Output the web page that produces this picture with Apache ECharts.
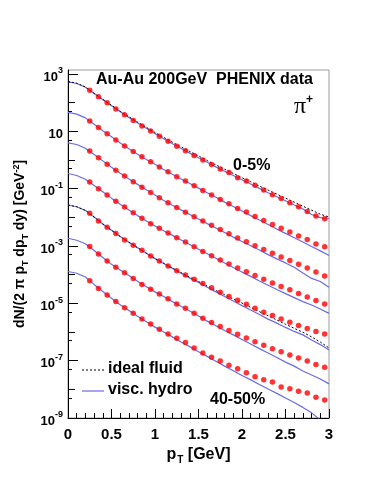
<!DOCTYPE html>
<html>
<head>
<meta charset="utf-8">
<title>pi+ spectra</title>
<script src="https://cdn.jsdelivr.net/npm/echarts@6/dist/echarts.min.js"></script>
<style>
  html, body { margin: 0; padding: 0; background: #fff; }
  #chart { width: 374px; height: 484px; }
</style>
</head>
<body>
<div id="chart"></div>
<script>
// pT points of the PHENIX data and of the hydro curves (GeV)
const ptData = [0.25, 0.35, 0.45, 0.55, 0.65, 0.75, 0.85, 0.95, 1.05, 1.15, 1.25, 1.35, 1.45, 1.55,
  1.65, 1.75, 1.85, 1.95, 2.05, 2.15, 2.25, 2.35, 2.45, 2.55, 2.65, 2.75, 2.85, 2.95];
const ptCurve = [0, 0.1, 0.2, 0.3, 0.4, 0.5, 0.6, 0.7, 0.8, 0.9, 1.0, 1.1, 1.2, 1.3, 1.4, 1.5,
  1.6, 1.7, 1.8, 1.9, 2.0, 2.1, 2.2, 2.3, 2.4, 2.5, 2.6, 2.7, 2.8, 2.9, 3.0];

// all yields below are log10 of dN/(2 pi pT dpT dy), scaled down one decade per class
const centralities = ["0-5%", "5-10%", "10-15%", "15-20%", "20-30%", "30-40%", "40-50%"];

// PHENIX points
const data0 = [2.43, 2.21, 2.00, 1.78, 1.58, 1.38, 1.19, 1.01, 0.83, 0.65, 0.48, 0.32, 0.16, 0.00,
  -0.16, -0.31, -0.44, -0.62, -0.73, -0.88, -1.05, -1.21, -1.34, -1.49, -1.63, -1.80, -1.95, -2.05];
const data1 = [1.36, 1.13, 0.92, 0.70, 0.49, 0.30, 0.11, -0.06, -0.24, -0.41, -0.58, -0.73, -0.90, -1.06,
  -1.22, -1.38, -1.53, -1.69, -1.81, -1.97, -2.11, -2.25, -2.38, -2.51, -2.65, -2.77, -2.93, -3.03];
const data2 = [0.31, 0.08, -0.15, -0.36, -0.56, -0.76, -0.95, -1.13, -1.32, -1.49, -1.66, -1.82, -1.98, -2.13,
  -2.28, -2.42, -2.57, -2.72, -2.85, -2.99, -3.12, -3.25, -3.38, -3.51, -3.64, -3.77, -3.91, -4.05];
const data3 = [-0.77, -1.00, -1.22, -1.44, -1.64, -1.84, -2.03, -2.22, -2.38, -2.55, -2.71, -2.86, -3.03, -3.19,
  -3.34, -3.49, -3.63, -3.77, -3.90, -4.03, -4.16, -4.29, -4.41, -4.53, -4.66, -4.78, -4.90, -5.02];
const data4 = [-1.86, -2.13, -2.35, -2.56, -2.79, -2.97, -3.15, -3.35, -3.52, -3.70, -3.86, -4.01, -4.16, -4.31,
  -4.46, -4.61, -4.76, -4.89, -5.03, -5.17, -5.31, -5.42, -5.55, -5.66, -5.77, -5.88, -5.98, -6.07];
const data5 = [-3.02, -3.28, -3.52, -3.74, -3.93, -4.13, -4.34, -4.51, -4.67, -4.84, -5.02, -5.17, -5.35, -5.52,
  -5.67, -5.81, -5.95, -6.08, -6.21, -6.34, -6.46, -6.58, -6.69, -6.80, -6.91, -7.01, -7.13, -7.23];
const data6 = [-4.21, -4.48, -4.71, -4.94, -5.15, -5.35, -5.55, -5.72, -5.90, -6.07, -6.22, -6.37, -6.56, -6.73,
  -6.88, -7.01, -7.16, -7.28, -7.42, -7.56, -7.67, -7.74, -7.92, -7.98, -8.07, -8.13, -8.28, -8.37];

// viscous hydro curves
const visc0 = [2.73, 2.67, 2.54, 2.32, 2.10, 1.89, 1.68, 1.48, 1.29, 1.11, 0.92, 0.74, 0.57, 0.40, 0.24, 0.08,
  -0.08, -0.24, -0.39, -0.54, -0.69, -0.84, -0.99, -1.14, -1.28, -1.42, -1.57, -1.71, -1.90, -2.01, -2.04];
const visc1 = [1.66, 1.60, 1.47, 1.25, 1.02, 0.81, 0.59, 0.39, 0.20, 0.02, -0.15, -0.33, -0.50, -0.66, -0.82, -0.98,
  -1.14, -1.30, -1.47, -1.62, -1.78, -1.94, -2.09, -2.25, -2.41, -2.56, -2.71, -2.86, -3.02, -3.17, -3.33];
const visc2 = [0.60, 0.54, 0.41, 0.19, -0.03, -0.25, -0.46, -0.66, -0.85, -1.04, -1.22, -1.41, -1.58, -1.74, -1.90, -2.06,
  -2.22, -2.37, -2.53, -2.69, -2.84, -2.99, -3.14, -3.30, -3.45, -3.59, -3.74, -3.94, -4.13, -4.24, -4.44];
const visc3 = [-0.47, -0.54, -0.67, -0.89, -1.11, -1.33, -1.54, -1.74, -1.94, -2.13, -2.30, -2.47, -2.63, -2.79, -2.95, -3.11,
  -3.27, -3.43, -3.59, -3.75, -3.91, -4.06, -4.22, -4.37, -4.52, -4.66, -4.80, -4.94, -5.06, -5.20, -5.35];
const visc4 = [-1.57, -1.63, -1.76, -1.99, -2.23, -2.45, -2.67, -2.87, -3.06, -3.25, -3.44, -3.61, -3.78, -3.95, -4.12, -4.27,
  -4.44, -4.60, -4.76, -4.92, -5.08, -5.23, -5.39, -5.55, -5.69, -5.84, -5.98, -6.10, -6.28, -6.44, -6.63];
const visc5 = [-2.73, -2.80, -2.92, -3.16, -3.40, -3.64, -3.84, -4.03, -4.23, -4.42, -4.60, -4.76, -4.94, -5.10, -5.27, -5.44,
  -5.62, -5.78, -5.95, -6.10, -6.26, -6.42, -6.58, -6.73, -6.89, -7.05, -7.19, -7.36, -7.50, -7.64, -7.81];
const visc6 = [-3.89, -3.95, -4.08, -4.34, -4.59, -4.82, -5.05, -5.25, -5.45, -5.64, -5.83, -6.00, -6.17, -6.35, -6.51, -6.69,
  -6.85, -7.02, -7.19, -7.35, -7.52, -7.67, -7.83, -7.99, -8.14, -8.30, -8.46, -8.63, -8.82, -9.07, -9.28];

// ideal fluid curves (only 0-5% and 20-30%)
const ideal0 = [2.74, 2.68, 2.55, 2.33, 2.12, 1.91, 1.70, 1.51, 1.32, 1.14, 0.96, 0.79, 0.62, 0.46, 0.30, 0.14,
  -0.02, -0.17, -0.32, -0.47, -0.62, -0.76, -0.91, -1.05, -1.19, -1.33, -1.47, -1.61, -1.75, -1.89, -1.99];
const ideal4 = [-1.57, -1.63, -1.76, -1.99, -2.23, -2.45, -2.67, -2.87, -3.06, -3.25, -3.44, -3.60, -3.77, -3.93, -4.09, -4.24,
  -4.40, -4.55, -4.70, -4.85, -4.99, -5.14, -5.29, -5.43, -5.58, -5.73, -5.87, -6.01, -6.17, -6.35, -6.56];

// y axis ticks
const labelTicks = [1e3, 1e1, 1e-1, 1e-3, 1e-5, 1e-7, 1e-9];
const decadeTicks = [1e2, 1, 1e-2, 1e-4, 1e-6, 1e-8];
const fiveTicks = [500, 50, 5, 0.5, 5e-2, 5e-3, 5e-4, 5e-5, 5e-6, 5e-7, 5e-8, 5e-9];

const dataSets = [data0, data1, data2, data3, data4, data5, data6];
const viscSets = [visc0, visc1, visc2, visc3, visc4, visc5, visc6];

const FONT = "Liberation Sans";
const BLUE = "#6b6be6";
const YMIN = 1e-9;
const YMAX = 1380;

function pairs(xs, lg) {
  return xs.map((x, i) => [x, Math.pow(10, lg[i])]);
}

const series = [];
viscSets.forEach((v) => {
  series.push({
    name: "visc. hydro",
    type: "line",
    data: pairs(ptCurve, v),
    showSymbol: false,
    symbol: "none",
    lineStyle: { color: BLUE, width: 1.2 },
    z: 2,
    silent: true,
  });
});
[ideal0, ideal4].forEach((v) => {
  series.push({
    name: "ideal fluid",
    type: "line",
    data: pairs(ptCurve, v),
    showSymbol: false,
    symbol: "none",
    lineStyle: { color: "#000", width: 1, type: [2, 2] },
    z: 3,
    silent: true,
  });
});
dataSets.forEach((d, i) => {
  series.push({
    name: "PHENIX " + centralities[i],
    type: "scatter",
    data: pairs(ptData, d),
    symbol: "circle",
    symbolSize: 5.5,
    itemStyle: { color: "#ff0000" },
    z: 4,
  });
});

function yAxisBase(extra) {
  return Object.assign({
    type: "log",
    min: YMIN,
    max: YMAX,
    position: "left",
    splitLine: { show: false },
    axisLine: { show: false },
    axisLabel: { show: false },
  }, extra);
}

function label(x, y, text) {
  return {
    type: "text", x: x, y: y,
    style: { text: text, font: "bold 16px " + FONT, fill: "#000", textVerticalAlign: "middle", verticalAlign: "middle" },
  };
}

const chart = echarts.init(document.getElementById("chart"), null, { renderer: "canvas" });
chart.setOption({
  animation: false,
  grid: {
    left: 68, right: 45, top: 70, bottom: 66,
    show: true, borderColor: "#9a9a9a", borderWidth: 1, backgroundColor: "transparent",
  },
  xAxis: {
    type: "value", min: 0, max: 3, interval: 0.5,
    name: "p{s|T} [GeV]",
    nameLocation: "middle", nameGap: 27,
    nameTextStyle: {
      fontFamily: FONT, fontWeight: "bold", fontSize: 16, color: "#000",
      rich: { s: { fontFamily: FONT, fontWeight: "bold", fontSize: 10, color: "#000", padding: [10, 0, 0, 1] } },
    },
    axisLine: { show: true, lineStyle: { color: "#000", width: 1 } },
    axisTick: { inside: true, length: 9, lineStyle: { color: "#000" } },
    minorTick: { show: true, splitNumber: 5, length: 5, lineStyle: { color: "#000" } },
    splitLine: { show: false },
    axisLabel: { fontFamily: FONT, fontWeight: "bold", fontSize: 15, color: "#000", margin: 9 },
  },
  yAxis: [
    yAxisBase({
      name: "dN/(2 π p{s|T} dp{s|T} dy) [GeV{u|-2}]",
      nameLocation: "middle", nameRotate: 90, nameGap: 36,
      nameTextStyle: {
        fontFamily: FONT, fontWeight: "bold", fontSize: 14, color: "#000",
        rich: {
          s: { fontFamily: FONT, fontWeight: "bold", fontSize: 9, color: "#000", padding: [9, 0, 0, 0] },
          u: { fontFamily: FONT, fontWeight: "bold", fontSize: 9, color: "#000", padding: [0, 0, 8, 0] },
        },
      },
      axisLine: { show: true, lineStyle: { color: "#000", width: 1 } },
      axisTick: { show: true, inside: true, length: 10, customValues: labelTicks, lineStyle: { color: "#000" } },
      axisLabel: {
        show: true, customValues: labelTicks, margin: 5,
        formatter: (v) => {
          const e = Math.round(Math.log10(v));
          return e === 1 ? "{b|10}" : "{b|10}{e|" + e + "}";
        },
        rich: {
          b: { fontFamily: FONT, fontWeight: "bold", fontSize: 13, color: "#000", padding: [6, 0, 0, 0] },
          e: { fontFamily: FONT, fontWeight: "bold", fontSize: 9, color: "#000", padding: [0, 0, 6, 0] },
        },
      },
    }),
    yAxisBase({ axisTick: { show: true, inside: true, length: 7, customValues: decadeTicks, lineStyle: { color: "#000" } } }),
    yAxisBase({ axisTick: { show: true, inside: true, length: 4, customValues: fiveTicks, lineStyle: { color: "#000" } } }),
  ],
  graphic: [
    label(96, 80, "Au-Au 200GeV  PHENIX data"),
    {
      type: "text", x: 294, y: 107,
      style: {
        text: "{p|π}{q|+}", fill: "#000", textVerticalAlign: "middle", verticalAlign: "middle",
        rich: {
          p: { font: "24px Liberation Serif", fill: "#000" },
          q: { font: "bold 12px " + FONT, fill: "#000", padding: [0, 0, 14, 0] },
        },
      },
    },
    label(233, 166, centralities[0]),
    label(210, 400, centralities[6]),
    // legend
    {
      type: "line", shape: { x1: 82, y1: 370, x2: 104, y2: 370 },
      style: { stroke: "#000", lineWidth: 1, lineDash: [2, 2] },
    },
    label(108, 369, "ideal fluid"),
    {
      type: "line", shape: { x1: 82, y1: 391, x2: 104, y2: 391 },
      style: { stroke: BLUE, lineWidth: 1.2 },
    },
    label(108, 390, "visc. hydro"),
  ],
  series: series,
});
</script>
</body>
</html>
